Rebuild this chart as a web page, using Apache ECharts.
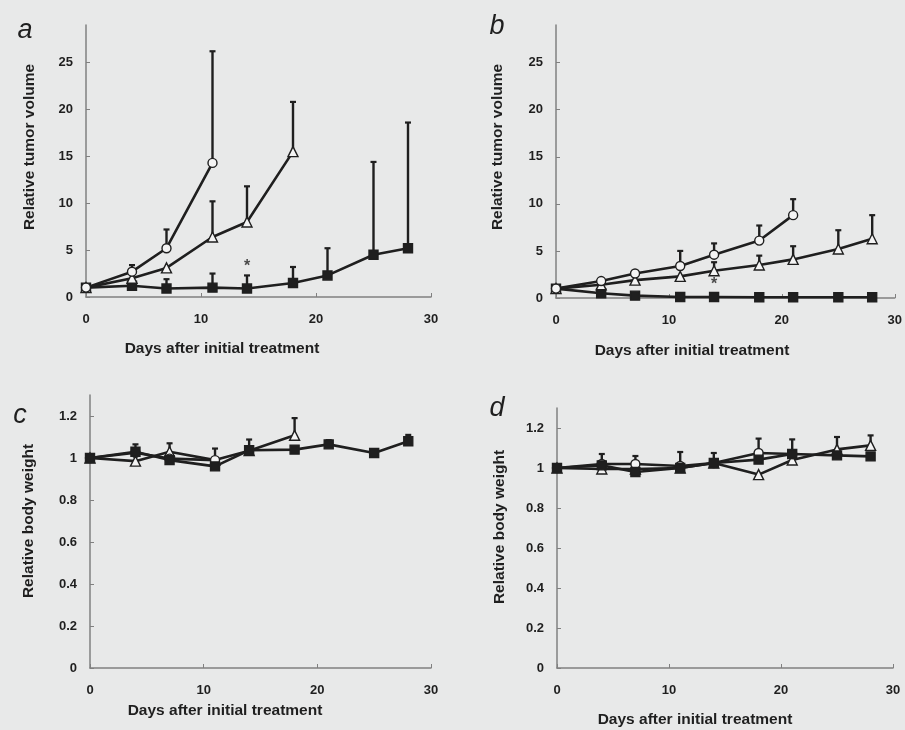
<!DOCTYPE html>
<html>
<head>
<meta charset="utf-8">
<script src="https://cdn.jsdelivr.net/npm/echarts@6/dist/echarts.min.js"></script>
<style>
  html, body { margin: 0; padding: 0; background: #e8e9e9; }
  #chart { width: 905px; height: 730px; }
</style>
</head>
<body>
<div id="chart"></div>
<script>
// days of measurement
var days = [0, 4, 7, 11, 14, 18, 21, 25, 28];

// a - relative tumor volume
var aCircle = [1, 2.7, 5.2, 14.3];
var aCircleTop = [null, 3.4, 7.2, 26.2];
var aTriangle = [1, 2.0, 3.1, 6.4, 8.0, 15.5];
var aTriangleTop = [null, null, null, 10.2, 11.8, 20.8];
var aSquare = [1, 1.2, 0.9, 1.0, 0.9, 1.5, 2.3, 4.5, 5.2];
var aSquareTop = [null, null, 1.9, 2.5, 2.3, 3.2, 5.2, 14.4, 18.6];
var aStar = [[14, 3.2]];

// b - relative tumor volume
var bCircle = [1, 1.8, 2.6, 3.4, 4.6, 6.1, 8.8];
var bCircleTop = [null, null, null, 5.0, 5.8, 7.7, 10.5];
var bTriangle = [1, 1.4, 1.9, 2.3, 2.9, 3.5, 4.1, 5.2, 6.3];
var bTriangleTop = [null, null, null, null, 3.8, 4.5, 5.5, 7.2, 8.8];
var bSquare = [1, 0.5, 0.25, 0.1, 0.1, 0.08, 0.08, 0.08, 0.08];
var bSquareTop = [null, null, null, null, null, null, null, null, null];
var bStar = [[14, 1.4]];

// c - relative body weight
var cCircle = [1, 1.025, 0.997, 0.99];
var cCircleTop = [null, null, null, null];
var cTriangle = [1, 0.985, 1.03, 0.99, 1.035, 1.108];
var cTriangleTop = [null, null, 1.07, 1.045, 1.088, 1.19];
var cSquare = [1, 1.03, 0.99, 0.96, 1.037, 1.04, 1.065, 1.024, 1.08];
var cSquareTop = [null, 1.065, null, null, null, null, 1.085, 1.04, 1.11];

// d - relative body weight
var dCircle = [1, 1.02, 1.02, 1.01, 1.025, 1.075, 1.07];
var dCircleTop = [null, 1.07, 1.06, 1.08, 1.075, 1.147, 1.143];
var dTriangle = [1, 0.995, 0.995, 1.0, 1.025, 0.967, 1.04, 1.093, 1.113];
var dTriangleTop = [null, null, null, null, null, null, null, 1.155, 1.163];
var dSquare = [1, 1.013, 0.98, 1.0, 1.025, 1.042, 1.07, 1.063, 1.058];
var dSquareTop = [null, null, null, null, null, null, null, null, null];

var xTicks = [0, 10, 20, 30];
var volumeTicks = [0, 5, 10, 15, 20, 25];
var weightTicks = [0, 0.2, 0.4, 0.6, 0.8, 1, 1.2];

var ink = '#1f1f1f';
var axisGray = '#808080';
var font = '"Liberation Sans", Arial, sans-serif';

function pairs(vals) {
  var out = [];
  for (var i = 0; i < vals.length; i++) out.push([days[i], vals[i]]);
  return out;
}

function errs(vals, tops) {
  var out = [];
  for (var i = 0; i < vals.length; i++) {
    if (tops[i] != null) out.push([days[i], vals[i], tops[i]]);
  }
  return out;
}

function lineSeries(idx, vals, symbol, filled) {
  return {
    type: 'line', xAxisIndex: idx, yAxisIndex: idx,
    data: pairs(vals), symbol: symbol,
    symbolSize: symbol === 'triangle' ? 10 : 9,
    showAllSymbol: true, z: 3,
    lineStyle: { color: ink, width: 2.6 },
    itemStyle: { color: filled ? ink : '#f4f4f4', borderColor: ink, borderWidth: 1.4 }
  };
}

function errSeries(idx, data) {
  return {
    type: 'custom', xAxisIndex: idx, yAxisIndex: idx, z: 2,
    data: data,
    renderItem: function (params, api) {
      var p0 = api.coord([api.value(0), api.value(1)]);
      var p1 = api.coord([api.value(0), api.value(2)]);
      return {
        type: 'group',
        children: [
          { type: 'line', shape: { x1: p0[0], y1: p0[1], x2: p1[0], y2: p1[1] },
            style: { stroke: ink, lineWidth: 2.4 } },
          { type: 'line', shape: { x1: p1[0] - 3, y1: p1[1], x2: p1[0] + 3, y2: p1[1] },
            style: { stroke: ink, lineWidth: 2.2 } }
        ]
      };
    }
  };
}

function starSeries(idx, data) {
  return {
    type: 'scatter', xAxisIndex: idx, yAxisIndex: idx, data: data,
    symbolSize: 1, itemStyle: { color: 'transparent' }, z: 4,
    label: { show: true, formatter: '*', position: 'inside', color: ink,
      fontSize: 16, fontWeight: 'bold', fontFamily: font }
  };
}

function xAxis(idx) {
  return {
    type: 'value', gridIndex: idx, min: 0, max: 30, interval: 10,
    axisLine: { lineStyle: { color: axisGray, width: 1.5 } },
    axisTick: { inside: true, length: 4, lineStyle: { color: axisGray } },
    splitLine: { show: false },
    axisLabel: { color: ink, fontSize: 13, fontWeight: 'bold', fontFamily: font, margin: 16,
      formatter: function (v) { return xTicks.indexOf(v) >= 0 ? String(v) : ''; } }
  };
}

function yAxis(idx, max, interval, ticks) {
  return {
    type: 'value', gridIndex: idx, min: 0, max: max, interval: interval,
    axisLine: { show: true, lineStyle: { color: axisGray, width: 1.5 } },
    axisTick: { show: true, inside: true, length: 4, lineStyle: { color: axisGray } },
    splitLine: { show: false },
    axisLabel: { color: ink, fontSize: 13, fontWeight: 'bold', fontFamily: font, margin: 13,
      showMaxLabel: false,
      formatter: function (v) {
        var r = Math.round(v * 10) / 10;
        return ticks.indexOf(r) >= 0 ? String(r) : '';
      } }
  };
}

function txt(x, y, s, opts) {
  var st = { text: s, fill: ink, font: opts.font, textAlign: 'center', textVerticalAlign: 'middle' };
  return { type: 'text', x: x, y: y, rotation: opts.rot || 0, style: st };
}

var nameFont = 'bold 15.5px "Liberation Sans", Arial, sans-serif';
var letterFont = 'italic 27px "Liberation Sans", Arial, sans-serif';

var chart = echarts.init(document.getElementById('chart'));
chart.setOption({
  backgroundColor: '#e8e9e9',
  animation: false,
  grid: [
    { left: 86, right: 474, top: 25, bottom: 433 },
    { left: 556, right: 4, top: 25, bottom: 432 },
    { left: 90, right: 474, top: 395, bottom: 62 },
    { left: 557, right: 12, top: 408, bottom: 62 }
  ],
  xAxis: [xAxis(0), xAxis(1), xAxis(2), xAxis(3)],
  yAxis: [
    yAxis(0, 29, 5, volumeTicks),
    yAxis(1, 29, 5, volumeTicks),
    yAxis(2, 1.3, 0.2, weightTicks),
    yAxis(3, 1.3, 0.2, weightTicks)
  ],
  series: [
    lineSeries(0, aSquare, 'rect', true),
    lineSeries(0, aTriangle, 'triangle', false),
    lineSeries(0, aCircle, 'circle', false),
    errSeries(0, errs(aSquare, aSquareTop).concat(errs(aTriangle, aTriangleTop), errs(aCircle, aCircleTop))),
    starSeries(0, aStar),

    lineSeries(1, bSquare, 'rect', true),
    lineSeries(1, bTriangle, 'triangle', false),
    lineSeries(1, bCircle, 'circle', false),
    errSeries(1, errs(bSquare, bSquareTop).concat(errs(bTriangle, bTriangleTop), errs(bCircle, bCircleTop))),
    starSeries(1, bStar),

    lineSeries(2, cTriangle, 'triangle', false),
    lineSeries(2, cCircle, 'circle', false),
    lineSeries(2, cSquare, 'rect', true),
    errSeries(2, errs(cSquare, cSquareTop).concat(errs(cTriangle, cTriangleTop), errs(cCircle, cCircleTop))),

    lineSeries(3, dTriangle, 'triangle', false),
    lineSeries(3, dCircle, 'circle', false),
    lineSeries(3, dSquare, 'rect', true),
    errSeries(3, errs(dSquare, dSquareTop).concat(errs(dTriangle, dTriangleTop), errs(dCircle, dCircleTop)))
  ],
  graphic: [
    txt(25, 30, 'a', { font: letterFont }),
    txt(497, 26, 'b', { font: letterFont }),
    txt(20, 415, 'c', { font: letterFont }),
    txt(497, 408, 'd', { font: letterFont }),

    txt(222, 349, 'Days after initial treatment', { font: nameFont }),
    txt(692, 351, 'Days after initial treatment', { font: nameFont }),
    txt(225, 711, 'Days after initial treatment', { font: nameFont }),
    txt(695, 720, 'Days after initial treatment', { font: nameFont }),

    txt(30, 147, 'Relative tumor volume', { font: nameFont, rot: Math.PI / 2 }),
    txt(498, 147, 'Relative tumor volume', { font: nameFont, rot: Math.PI / 2 }),
    txt(29, 521, 'Relative body weight', { font: nameFont, rot: Math.PI / 2 }),
    txt(500, 527, 'Relative body weight', { font: nameFont, rot: Math.PI / 2 })
  ]
});
</script>
</body>
</html>
